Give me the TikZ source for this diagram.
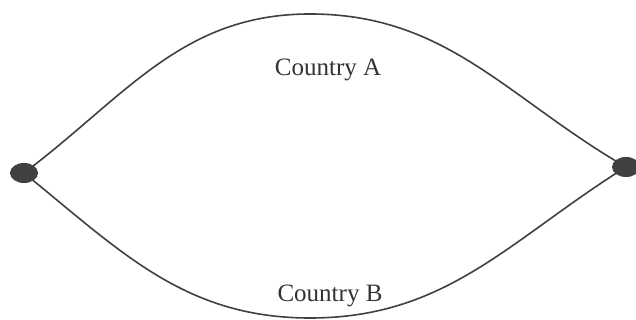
\documentclass[tikz,border=0pt]{standalone}
\usepackage{fontspec}
\setmainfont{Liberation Serif}
\usetikzlibrary{shapes.geometric}
\tikzset{
  dot/.style={ellipse, fill=black!75, minimum width=28pt, minimum height=20pt, inner sep=0pt},
  route/.style={line width=1.6pt, black!75},
  country/.style={font=\fontsize{25}{30}\selectfont, text=black!80}
}
\begin{document}
\begin{tikzpicture}[x=1pt,y=1pt]
\useasboundingbox (0,0) rectangle (636,320);
\node[dot] (l) at (24,147) {};
\node[dot] (r) at (626,153) {};
\coordinate (t) at (310,306);
\coordinate (b) at (310,2);
\draw[route] (l.center) to[out=37,in=180] (t) to[out=0,in=150] (r.center);
\draw[route] (l.center) to[out=-39,in=180] (b) to[out=0,in=-148] (r.center);
\node[country] (a) at (328,250) {Country A};
\node[country] (c) at (330,24) {Country B};
\end{tikzpicture}
\end{document}
